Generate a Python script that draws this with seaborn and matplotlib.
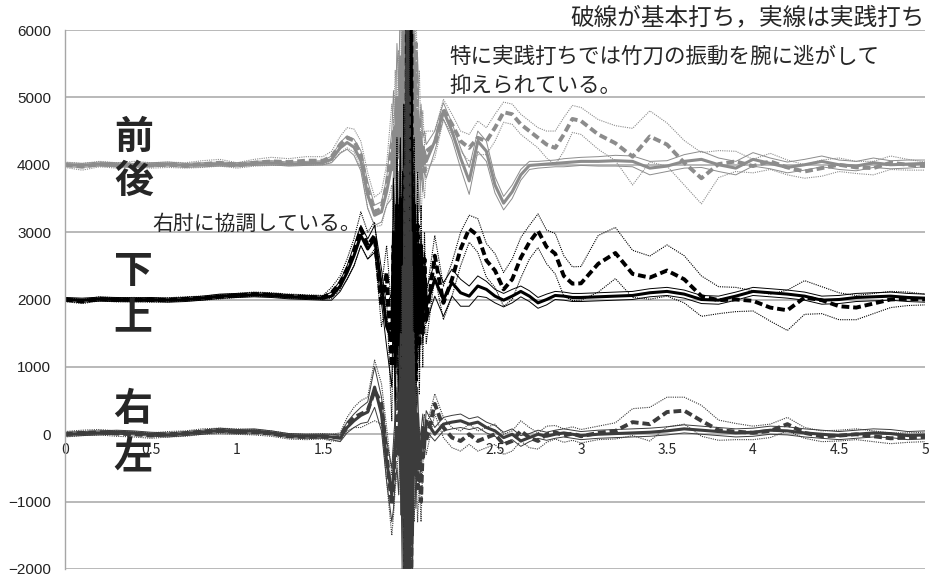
import matplotlib
matplotlib.use("Agg")
import matplotlib.pyplot as plt
import seaborn as sns

sns.set_style("white")
plt.rcParams["font.family"] = ["Noto Sans CJK JP", "DejaVu Sans"]
plt.rcParams["axes.unicode_minus"] = True

# time [s]
T = [0.0, 0.1, 0.2, 0.3, 0.4, 0.5, 0.6, 0.7, 0.8, 0.9, 1.0, 1.1, 1.2, 1.3, 1.4, 1.5,
     1.55, 1.6, 1.64, 1.68, 1.72, 1.76, 1.8, 1.84, 1.87,
     1.9, 1.91, 1.92, 1.93, 1.94, 1.95, 1.96, 1.97, 1.98, 1.99, 2.0,
     2.01, 2.02, 2.03, 2.04, 2.05, 2.06, 2.07, 2.08, 2.09, 2.1,
     2.15, 2.2, 2.25, 2.3, 2.35, 2.4, 2.45, 2.5, 2.55, 2.6, 2.65, 2.7, 2.75, 2.8, 2.85, 2.9, 2.95, 3.0,
     3.1, 3.2, 3.3, 3.4, 3.5, 3.6, 3.7, 3.8, 3.9, 4.0, 4.1, 4.2, 4.3, 4.4, 4.5, 4.6, 4.7, 4.8, 4.9, 5.0]

# 前後 (offset +4000): basic strike mean / SD, practical strike mean / SD
fb_basic = [4000, 3970, 4010, 3990, 4010, 3990, 4000, 3990, 4010, 4030, 3990, 4030, 4050, 4040, 4060, 4060,
            4120, 4300, 4400, 4360, 4150, 3620, 3300, 3350, 3700,
            4300, 3900, 4600, 4100, 4800, 4200, 5400, 4500, 7500, 3500, 8000,
            4000, 7000, 3600, 5800, 3900, 4700, 3800, 4300, 3900, 4200,
            4300, 4820, 4600, 4350, 4250, 4400, 4350, 4550, 4780, 4750, 4600, 4500, 4400, 4300, 4250, 4450, 4680, 4650,
            4450, 4320, 4120, 4420, 4300, 4030, 3800, 4010, 4050, 3980, 4050, 3960, 3900, 3950, 4000, 3960, 3950, 4030, 4000, 3980]
fb_basic_sd = [40, 50, 40, 40, 40, 40, 40, 40, 50, 50, 40, 50, 60, 50, 60, 60,
               80, 120, 150, 170, 200, 260, 220, 250, 300,
               600, 700, 800, 700, 900, 800, 1000, 1200, 1500, 2000, 1800,
               1500, 1200, 1000, 900, 800, 700, 600, 500, 400, 300,
               200, 150, 150, 150, 200, 250, 200, 200, 150, 150, 150, 150, 150, 200, 250, 250, 200, 200,
               220, 260, 420, 380, 320, 330, 380, 200, 150, 100, 120, 110, 100, 120, 100, 90, 100, 100, 80, 60]
fb_prac = [4000, 3990, 4010, 4000, 3990, 4000, 4010, 3990, 4000, 4010, 4000, 4020, 4030, 4010, 4020, 4030,
           4080, 4250, 4330, 4260, 4060, 3550, 3250, 3300, 3600,
           4000, 4500, 3800, 5000, 4200, 5600, 3900, 6500, 3300, 9000, 2500,
           7500, 3800, 5500, 4000, 4800, 3900, 4400, 4000, 4200, 4050,
           4350, 4800, 4500, 4100, 3760, 4350, 4200, 3700, 3430, 3600, 3850, 3990, 4000, 4010, 4020, 4030, 4040, 4050,
           4050, 4060, 4050, 3950, 3980, 4050, 4080, 4000, 3950, 4080, 4020, 3960, 4000, 4050, 4000, 3980, 4030, 4000, 4010, 4020]
fb_prac_sd = [30, 30, 30, 30, 30, 30, 30, 30, 30, 30, 30, 30, 30, 30, 30, 30,
              50, 80, 100, 120, 150, 200, 150, 150, 200,
              500, 600, 700, 800, 900, 1000, 1100, 1200, 1500, 1800, 1600,
              1400, 1200, 1000, 900, 800, 600, 500, 400, 300, 250,
              150, 120, 120, 150, 200, 150, 150, 120, 100, 100, 80, 60, 50, 50, 50, 60, 60, 60,
              70, 80, 80, 100, 80, 100, 120, 100, 100, 100, 80, 80, 80, 80, 70, 70, 70, 60, 60, 50]

# 下上 (offset +2000)
ud_basic = [2000, 1970, 2010, 1995, 2000, 1990, 1995, 2010, 2020, 2040, 2060, 2080, 2070, 2050, 2040, 2030,
            2100, 2250, 2450, 2700, 3050, 2800, 2950, 1900, 2400,
            1000, 2800, 1300, 3400, 900, 3200, 700, 3600, -2500, 9000, -6000,
            9000, 500, 3400, 800, 3100, 1300, 2800, 1500, 2600, 1700,
            2650, 1950, 2300, 2750, 3050, 2950, 2580, 2430, 2150, 2300, 2620, 2850, 3020, 2780, 2680, 2350, 2235, 2240,
            2530, 2690, 2380, 2325, 2430, 2300, 2050, 1990, 2000, 1980, 1880, 1840, 2030, 1990, 1900, 1880, 1940, 2000, 2010, 2000]
ud_basic_sd = [30, 30, 30, 30, 30, 30, 30, 30, 30, 30, 30, 30, 30, 30, 30, 30,
               80, 100, 150, 200, 250, 200, 200, 300, 400,
               800, 900, 800, 1000, 900, 1100, 1000, 1300, 1500, 2000, 2000,
               1800, 1200, 1000, 900, 800, 700, 600, 500, 400, 350,
               300, 250, 250, 250, 200, 250, 250, 250, 250, 300, 300, 250, 250, 250, 300, 300, 250, 250,
               420, 380, 350, 320, 380, 350, 300, 200, 180, 150, 200, 300, 250, 200, 200, 180, 150, 120, 100, 80]
ud_prac = [2000, 1990, 2005, 2000, 1995, 2000, 1990, 2000, 2020, 2050, 2060, 2070, 2060, 2040, 2030, 2020,
           2050, 2200, 2400, 2650, 2950, 2750, 2900, 2200, 1600,
           1400, 3000, 1000, 3300, 1200, 3500, 400, 3900, -4000, 8000, -7000,
           7500, 900, 3100, 1100, 2800, 1500, 2600, 1700, 2400, 1900,
           2300, 2000, 2250, 2100, 2050, 2200, 2150, 2050, 1990, 2050, 2120, 2050, 1950, 2000, 2060, 2050, 2030, 2030,
           2040, 2050, 2060, 2100, 2120, 2080, 2000, 1990, 2050, 2120, 2100, 2080, 2050, 1990, 2000, 2030, 2040, 2050, 2030, 2020]
ud_prac_sd = [30, 30, 30, 30, 30, 30, 30, 30, 30, 30, 30, 30, 30, 30, 30, 30,
              60, 80, 100, 150, 150, 150, 200, 250, 300,
              700, 800, 900, 800, 1000, 900, 1200, 1000, 1500, 1800, 1800,
              1500, 1000, 800, 700, 600, 500, 400, 350, 300, 250,
              250, 250, 200, 200, 150, 150, 120, 100, 100, 100, 80, 80, 80, 80, 60, 60, 60, 60,
              60, 60, 60, 60, 60, 60, 60, 60, 60, 60, 60, 60, 60, 60, 60, 60, 60, 60, 60, 60]

# 右左 (offset 0)
lr_basic = [0, 20, 30, 10, 0, -20, 0, 10, 40, 50, 40, 30, 10, -30, -40, -30,
            -50, -40, 150, 250, 300, 350, 650, 450, -300,
            -1050, -700, -300, 0, 600, -100, 1500, -800, 4000, -5000, 5000,
            -4000, 1500, -500, 200, -800, -300, -1000, -200, 100, -100,
            450, 100, -50, -100, 0, -100, -50, 0, -150, -100, 50, -50, -100, 0, 30, -20, 10, -30,
            20, 50, 180, 150, 330, 350, 200, 60, 40, 20, 50, 150, 20, -30, -20, 0, -30, -60, -50, -40]
lr_basic_sd = [40, 40, 40, 40, 40, 40, 40, 40, 40, 40, 40, 40, 40, 40, 40, 40,
               50, 60, 100, 150, 200, 200, 450, 300, 400,
               450, 500, 500, 600, 700, 800, 1000, 1200, 1500, 2000, 2000,
               1500, 1000, 800, 600, 500, 400, 300, 250, 200, 200,
               150, 150, 150, 150, 150, 150, 150, 150, 150, 150, 150, 150, 120, 120, 100, 100, 100, 100,
               100, 120, 200, 250, 220, 200, 230, 150, 120, 100, 100, 100, 80, 80, 80, 80, 80, 80, 70, 70]
lr_prac = [0, 10, 20, 30, 20, 0, -10, 10, 30, 60, 40, 50, 20, -20, -30, -30,
           -40, -60, 100, 200, 280, 330, 700, 300, -400,
           -900, -600, -200, 100, -300, 800, -1200, 2500, -3000, 6000, -6000,
           3000, -1500, 600, -600, 300, -400, -200, 100, -200, 200,
           0, 150, 180, 200, 150, 180, 100, 50, -50, 0, -100, -50, 0, -30, 0, 20, 0, -20,
           0, 10, 20, 30, 50, 80, 60, 40, 20, 30, 60, 50, 20, 0, -20, 0, 20, 10, -20, -10]
lr_prac_sd = [30, 30, 30, 30, 30, 30, 30, 30, 30, 30, 30, 30, 30, 30, 30, 30,
              40, 50, 80, 100, 120, 150, 300, 250, 300,
              400, 500, 500, 600, 600, 700, 800, 1000, 1200, 1500, 1500,
              1200, 800, 600, 500, 400, 300, 250, 200, 150, 150,
              100, 100, 100, 100, 80, 80, 80, 80, 80, 80, 80, 60, 60, 60, 60, 60, 60, 60,
              60, 60, 60, 60, 60, 60, 60, 60, 60, 60, 60, 60, 60, 60, 60, 60, 60, 60, 60, 60]

x_ticks = [0, 0.5, 1, 1.5, 2, 2.5, 3, 3.5, 4, 4.5, 5]
x_labels = ["0", "0.5", "1", "1.5", "2", "2.5", "3", "3.5", "4", "4.5", "5"]
y_ticks = [-2000, -1000, 0, 1000, 2000, 3000, 4000, 5000, 6000]

groups = [
    (fb_basic, fb_basic_sd, fb_prac, fb_prac_sd, "#8c8c8c"),
    (ud_basic, ud_basic_sd, ud_prac, ud_prac_sd, "#000000"),
    (lr_basic, lr_basic_sd, lr_prac, lr_prac_sd, "#3c3c3c"),
]

W, H = 933, 578
fig = plt.figure(figsize=(W / 100, H / 100), dpi=100)
ax = fig.add_axes([65 / W, 9 / H, 860 / W, 539 / H])

for basic, bsd, prac, psd, col in groups:
    b_hi = [m + s for m, s in zip(basic, bsd)]
    b_lo = [m - s for m, s in zip(basic, bsd)]
    p_hi = [m + s for m, s in zip(prac, psd)]
    p_lo = [m - s for m, s in zip(prac, psd)]
    for y in (b_hi, b_lo):
        sns.lineplot(x=T, y=y, ax=ax, color=col, lw=0.8, linestyle=(0, (1, 1)),
                     estimator=None, sort=False)
    for y in (p_hi, p_lo):
        sns.lineplot(x=T, y=y, ax=ax, color=col, lw=0.7, estimator=None, sort=False)
    sns.lineplot(x=T, y=prac, ax=ax, color=col, lw=2.2, estimator=None, sort=False)
    sns.lineplot(x=T, y=basic, ax=ax, color=col, lw=2.8, linestyle=(0, (2, 1)),
                 estimator=None, sort=False)

ax.set_xlim(0, 5)
ax.set_ylim(-2000, 6000)
ax.set_yticks(y_ticks)
ax.set_yticklabels([f"{v}".replace("-", "\u2212") for v in y_ticks],
                   family=["Liberation Sans", "DejaVu Sans"], fontsize=11, color="#222222")
ax.set_xticks(x_ticks)
ax.set_xticklabels(x_labels, family=["Noto Sans CJK JP"], fontsize=12.5, color="#111111")
ax.set_xlabel("")
ax.set_ylabel("")

ax.grid(axis="y", color="#a6a6a6", lw=1.1)
ax.grid(axis="x", visible=False)
ax.set_axisbelow(True)
for side in ("top", "right"):
    ax.spines[side].set_visible(False)
ax.spines["left"].set_color("#a6a6a6")
ax.spines["left"].set_linewidth(1.0)
ax.spines["bottom"].set_position(("data", 0))
ax.spines["bottom"].set_color("none")
ax.tick_params(axis="y", length=3, width=1.0, color="#a6a6a6", pad=7)
ax.tick_params(axis="x", length=0, pad=6)


def px(x, y):
    return x / W, 1 - y / H


fig.text(*px(925, 18), "破線が基本打ち，実線は実践打ち", ha="right", va="center", fontsize=17)
fig.text(*px(449, 57), "特に実践打ちでは竹刀の振動を腕に逃がして", ha="left", va="center", fontsize=15.5)
fig.text(*px(449, 86), "抑えられている。", ha="left", va="center", fontsize=15.5)
fig.text(*px(152, 224), "右肘に協調している。", ha="left", va="center", fontsize=15)

for ch, (cx, cy) in [("前", (134, 137)), ("後", (134, 181)), ("下", (133, 271)),
                     ("上", (133, 318)), ("右", (133, 410)), ("左", (133, 457))]:
    fig.text(*px(cx, cy), ch, ha="center", va="center", fontsize=28, fontweight="bold")

fig.savefig("out.png", dpi=100)
